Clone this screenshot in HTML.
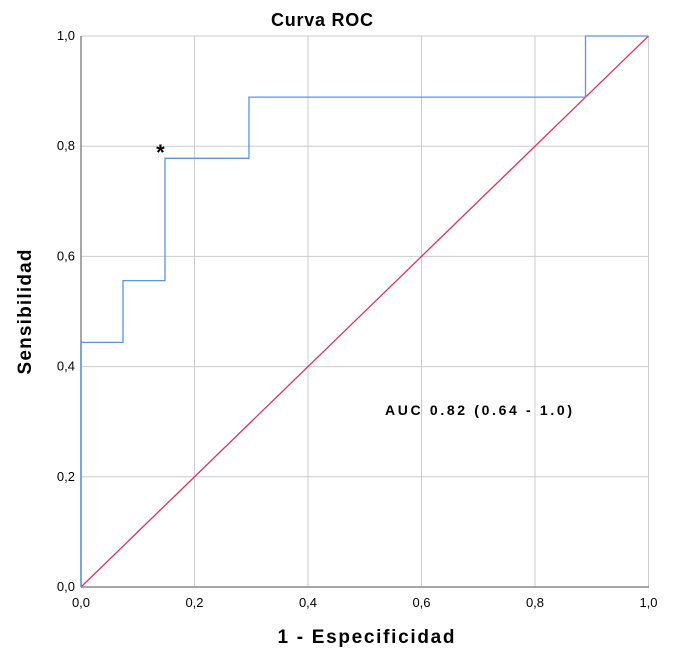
<!DOCTYPE html>
<html><head><meta charset="utf-8"><style>
body{margin:0;background:#fff;font-family:"Liberation Sans",sans-serif}
</style></head><body>
<svg width="690" height="655" style="display:block">
<text x="322" y="26" text-anchor="middle" font-size="18" font-weight="bold" textLength="102">Curva ROC</text>
<g id="grid"></g>
<g id="ticks" font-size="13"></g>
<line x1="81" y1="36" x2="81" y2="587" stroke="#888" stroke-width="1.5"/>
<line x1="81" y1="587" x2="649" y2="587" stroke="#888" stroke-width="1.5"/>
<path id="diag" fill="none" stroke="#e0305f" stroke-width="1.3"/>
<path id="roc" fill="none" stroke="#5b94e0" stroke-width="1.3"/>
<text id="star" font-size="22" font-weight="bold" text-anchor="middle">*</text>
<text x="385" y="415" font-size="14" font-weight="bold" textLength="187">AUC 0.82 (0.64 - 1.0)</text>
<text x="366" y="643" text-anchor="middle" font-size="19" font-weight="bold" textLength="177">1 - Especificidad</text>
<text transform="translate(31,312) rotate(-90)" text-anchor="middle" font-size="19" font-weight="bold" textLength="125">Sensibilidad</text>
</svg>
<script>
const fpr=[0,0,0.074,0.074,0.148,0.148,0.296,0.296,0.889,0.889,1.0];
const tpr=[0,0.444,0.444,0.556,0.556,0.778,0.778,0.889,0.889,1.0,1.0];
const ticks=[0,0.2,0.4,0.6,0.8,1.0];
const tickLabels=["0,0","0,2","0,4","0,6","0,8","1,0"];
const cutoff=[0.14,0.80];
const X=v=>81+v*567.5, Y=v=>587-v*551;
const ns="http://www.w3.org/2000/svg";
const grid=document.getElementById('grid'), tk=document.getElementById('ticks');
ticks.forEach((t,i)=>{
  if(t>0){
    let l=document.createElementNS(ns,'line');
    l.setAttribute('x1',X(t));l.setAttribute('x2',X(t));l.setAttribute('y1',Y(0));l.setAttribute('y2',Y(1));
    l.setAttribute('stroke','#ccc');
    
    
    grid.appendChild(l);
    let h=document.createElementNS(ns,'line');
    h.setAttribute('x1',X(0));h.setAttribute('x2',X(1));h.setAttribute('y1',Y(t));h.setAttribute('y2',Y(t));
    h.setAttribute('stroke','#ccc');
    
    
    grid.appendChild(h);
  }
  let a=document.createElementNS(ns,'text');
  a.setAttribute('x',X(t));a.setAttribute('y',607);a.setAttribute('text-anchor','middle');a.textContent=tickLabels[i];
  
  
  tk.appendChild(a);
  let b=document.createElementNS(ns,'text');
  b.setAttribute('x',75);b.setAttribute('y',Y(t)+4);b.setAttribute('text-anchor','end');b.textContent=tickLabels[i];
  
  
  tk.appendChild(b);
});
document.getElementById('roc').setAttribute('d',fpr.map((v,i)=>(i?'L':'M')+X(v)+' '+Y(tpr[i])).join(' '));
document.getElementById('diag').setAttribute('d','M'+X(0)+' '+Y(0)+' L'+X(1)+' '+Y(1));
const s=document.getElementById('star');s.setAttribute('x',X(cutoff[0]));s.setAttribute('y',Y(cutoff[1])+14);
</script>
</body></html>
